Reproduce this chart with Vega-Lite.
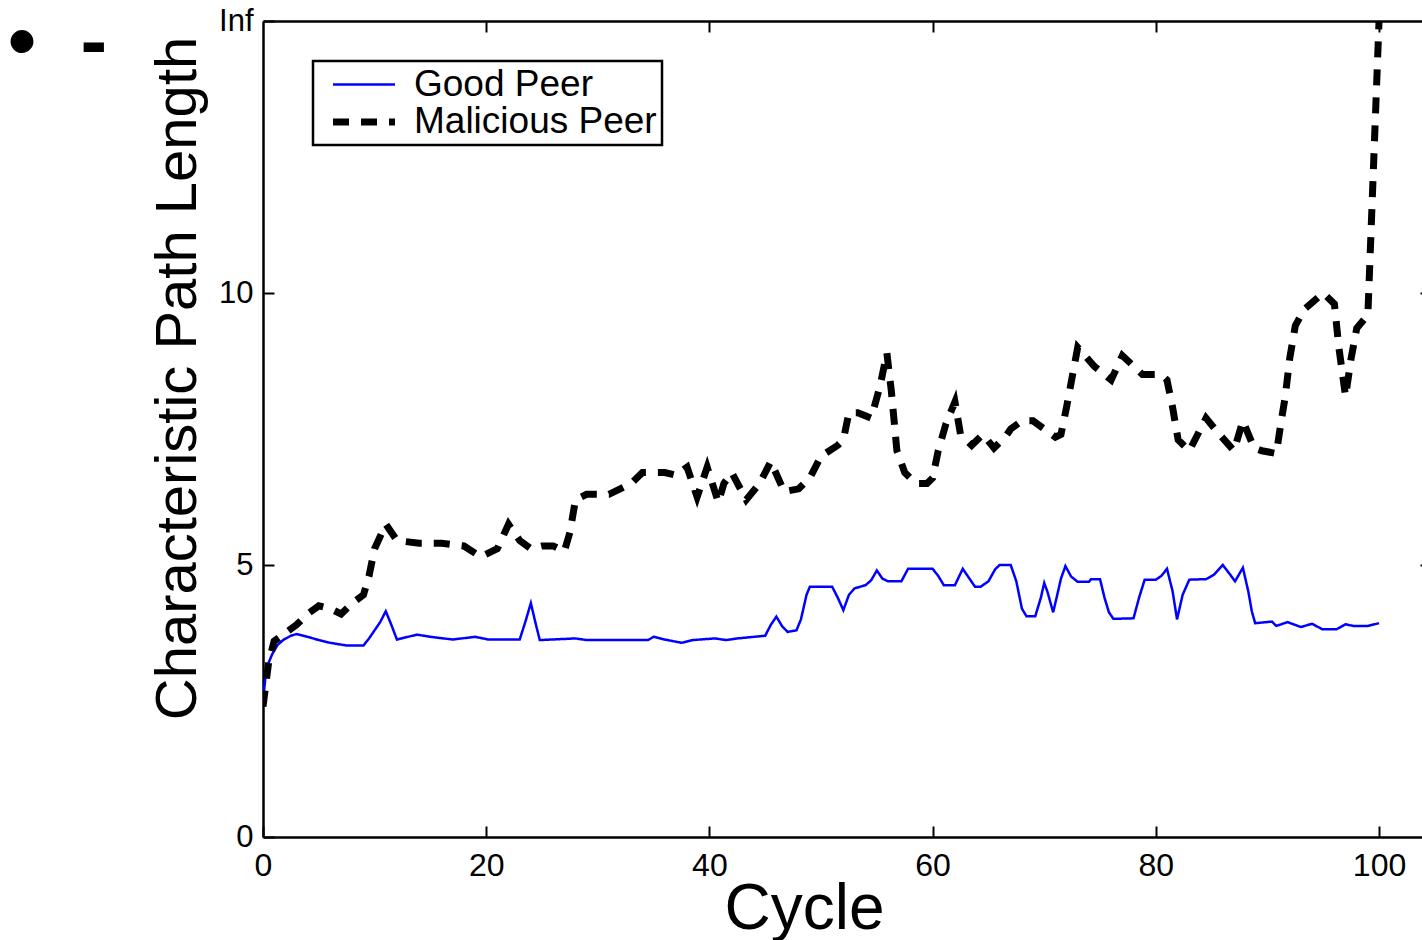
{
  "$schema": "https://vega.github.io/schema/vega-lite/v6.json",
  "width": 1159,
  "height": 816,
  "autosize": {"type": "none"},
  "padding": {"left": 263, "top": 21, "right": 0, "bottom": 103},
  "background": "white",
  "config": {
    "view": {"stroke": null},
    "font": "Liberation Sans",
    "legend": {"strokeWidth": 2.5},
    "axis": {"grid": false, "domainColor": "black", "tickColor": "black", "labelColor": "black", "titleColor": "black", "labelFont": "Liberation Sans", "titleFont": "Liberation Sans", "titleFontWeight": "normal"}
  },
  "title": {
    "text": "•\u00a0\u00a0-",
    "anchor": "start",
    "frame": "group",
    "orient": "top",
    "offset": 0,
    "dx": -255,
    "dy": 143,
    "baseline": "alphabetic",
    "fontSize": 80,
    "fontWeight": "bold",
    "font": "Liberation Sans",
    "color": "black"
  },
  "data": {
    "values": [
      {"s": "Good Peer", "c": 0, "v": 2.5},
      {"s": "Good Peer", "c": 0.3, "v": 3.1},
      {"s": "Good Peer", "c": 0.8, "v": 3.35},
      {"s": "Good Peer", "c": 1.3, "v": 3.53},
      {"s": "Good Peer", "c": 1.8, "v": 3.62},
      {"s": "Good Peer", "c": 2.5, "v": 3.7},
      {"s": "Good Peer", "c": 3, "v": 3.73},
      {"s": "Good Peer", "c": 4, "v": 3.68},
      {"s": "Good Peer", "c": 5, "v": 3.62},
      {"s": "Good Peer", "c": 6, "v": 3.57},
      {"s": "Good Peer", "c": 7.5, "v": 3.52},
      {"s": "Good Peer", "c": 9, "v": 3.52},
      {"s": "Good Peer", "c": 9.5, "v": 3.65},
      {"s": "Good Peer", "c": 10, "v": 3.8},
      {"s": "Good Peer", "c": 10.5, "v": 3.95},
      {"s": "Good Peer", "c": 11, "v": 4.15},
      {"s": "Good Peer", "c": 11.5, "v": 3.9},
      {"s": "Good Peer", "c": 12, "v": 3.63},
      {"s": "Good Peer", "c": 13, "v": 3.68},
      {"s": "Good Peer", "c": 13.8, "v": 3.72},
      {"s": "Good Peer", "c": 15, "v": 3.68},
      {"s": "Good Peer", "c": 17, "v": 3.63},
      {"s": "Good Peer", "c": 19, "v": 3.68},
      {"s": "Good Peer", "c": 20.2, "v": 3.63},
      {"s": "Good Peer", "c": 23, "v": 3.63},
      {"s": "Good Peer", "c": 23.5, "v": 3.95},
      {"s": "Good Peer", "c": 24, "v": 4.3},
      {"s": "Good Peer", "c": 24.4, "v": 3.95},
      {"s": "Good Peer", "c": 24.8, "v": 3.62},
      {"s": "Good Peer", "c": 28, "v": 3.65},
      {"s": "Good Peer", "c": 29, "v": 3.62},
      {"s": "Good Peer", "c": 34.5, "v": 3.62},
      {"s": "Good Peer", "c": 35, "v": 3.68},
      {"s": "Good Peer", "c": 36, "v": 3.63},
      {"s": "Good Peer", "c": 37.5, "v": 3.57},
      {"s": "Good Peer", "c": 38.5, "v": 3.62},
      {"s": "Good Peer", "c": 40.5, "v": 3.65},
      {"s": "Good Peer", "c": 41.5, "v": 3.62},
      {"s": "Good Peer", "c": 42.5, "v": 3.65},
      {"s": "Good Peer", "c": 44, "v": 3.68},
      {"s": "Good Peer", "c": 45, "v": 3.7},
      {"s": "Good Peer", "c": 45.5, "v": 3.9},
      {"s": "Good Peer", "c": 46, "v": 4.05},
      {"s": "Good Peer", "c": 46.5, "v": 3.88},
      {"s": "Good Peer", "c": 47, "v": 3.77},
      {"s": "Good Peer", "c": 47.8, "v": 3.8},
      {"s": "Good Peer", "c": 48.2, "v": 4.0},
      {"s": "Good Peer", "c": 48.7, "v": 4.45},
      {"s": "Good Peer", "c": 49, "v": 4.6},
      {"s": "Good Peer", "c": 51, "v": 4.6},
      {"s": "Good Peer", "c": 51.5, "v": 4.4},
      {"s": "Good Peer", "c": 52, "v": 4.17},
      {"s": "Good Peer", "c": 52.5, "v": 4.45},
      {"s": "Good Peer", "c": 53, "v": 4.57},
      {"s": "Good Peer", "c": 54, "v": 4.63},
      {"s": "Good Peer", "c": 54.5, "v": 4.72},
      {"s": "Good Peer", "c": 55, "v": 4.9},
      {"s": "Good Peer", "c": 55.5, "v": 4.75},
      {"s": "Good Peer", "c": 56, "v": 4.7},
      {"s": "Good Peer", "c": 57.2, "v": 4.7},
      {"s": "Good Peer", "c": 57.8, "v": 4.93},
      {"s": "Good Peer", "c": 60, "v": 4.93},
      {"s": "Good Peer", "c": 60.5, "v": 4.8},
      {"s": "Good Peer", "c": 61, "v": 4.63},
      {"s": "Good Peer", "c": 62, "v": 4.63},
      {"s": "Good Peer", "c": 62.7, "v": 4.93},
      {"s": "Good Peer", "c": 63.2, "v": 4.78},
      {"s": "Good Peer", "c": 63.8, "v": 4.6},
      {"s": "Good Peer", "c": 64.3, "v": 4.6},
      {"s": "Good Peer", "c": 65, "v": 4.7},
      {"s": "Good Peer", "c": 65.6, "v": 4.92},
      {"s": "Good Peer", "c": 66, "v": 5.0},
      {"s": "Good Peer", "c": 67, "v": 5.0},
      {"s": "Good Peer", "c": 67.5, "v": 4.7},
      {"s": "Good Peer", "c": 68, "v": 4.2},
      {"s": "Good Peer", "c": 68.4, "v": 4.06},
      {"s": "Good Peer", "c": 69.2, "v": 4.06},
      {"s": "Good Peer", "c": 69.7, "v": 4.4},
      {"s": "Good Peer", "c": 70, "v": 4.67},
      {"s": "Good Peer", "c": 70.3, "v": 4.5},
      {"s": "Good Peer", "c": 70.8, "v": 4.13},
      {"s": "Good Peer", "c": 71.2, "v": 4.48},
      {"s": "Good Peer", "c": 71.5, "v": 4.75},
      {"s": "Good Peer", "c": 71.9, "v": 4.98},
      {"s": "Good Peer", "c": 72.4, "v": 4.79},
      {"s": "Good Peer", "c": 73, "v": 4.69},
      {"s": "Good Peer", "c": 74, "v": 4.69},
      {"s": "Good Peer", "c": 74.2, "v": 4.74},
      {"s": "Good Peer", "c": 75, "v": 4.74},
      {"s": "Good Peer", "c": 75.4, "v": 4.4},
      {"s": "Good Peer", "c": 75.8, "v": 4.13},
      {"s": "Good Peer", "c": 76.2, "v": 4.01},
      {"s": "Good Peer", "c": 78, "v": 4.02},
      {"s": "Good Peer", "c": 78.5, "v": 4.4},
      {"s": "Good Peer", "c": 79, "v": 4.73},
      {"s": "Good Peer", "c": 80, "v": 4.73},
      {"s": "Good Peer", "c": 80.5, "v": 4.8},
      {"s": "Good Peer", "c": 81, "v": 4.93},
      {"s": "Good Peer", "c": 81.5, "v": 4.52},
      {"s": "Good Peer", "c": 81.9, "v": 4.0},
      {"s": "Good Peer", "c": 82.4, "v": 4.45},
      {"s": "Good Peer", "c": 83, "v": 4.73},
      {"s": "Good Peer", "c": 84.5, "v": 4.74},
      {"s": "Good Peer", "c": 85.2, "v": 4.82},
      {"s": "Good Peer", "c": 86, "v": 5.0},
      {"s": "Good Peer", "c": 86.6, "v": 4.84},
      {"s": "Good Peer", "c": 87.1, "v": 4.7},
      {"s": "Good Peer", "c": 87.8, "v": 4.95},
      {"s": "Good Peer", "c": 88.3, "v": 4.5},
      {"s": "Good Peer", "c": 88.6, "v": 4.15},
      {"s": "Good Peer", "c": 88.9, "v": 3.93},
      {"s": "Good Peer", "c": 90.4, "v": 3.96},
      {"s": "Good Peer", "c": 90.8, "v": 3.88},
      {"s": "Good Peer", "c": 91.8, "v": 3.95},
      {"s": "Good Peer", "c": 93, "v": 3.86},
      {"s": "Good Peer", "c": 94, "v": 3.92},
      {"s": "Good Peer", "c": 94.9, "v": 3.82},
      {"s": "Good Peer", "c": 96.2, "v": 3.82},
      {"s": "Good Peer", "c": 97, "v": 3.91},
      {"s": "Good Peer", "c": 97.7, "v": 3.88},
      {"s": "Good Peer", "c": 99, "v": 3.88},
      {"s": "Good Peer", "c": 100, "v": 3.93},
      {"s": "Malicious Peer", "c": 0, "v": 2.4},
      {"s": "Malicious Peer", "c": 0.5, "v": 3.2},
      {"s": "Malicious Peer", "c": 1, "v": 3.6},
      {"s": "Malicious Peer", "c": 2, "v": 3.75},
      {"s": "Malicious Peer", "c": 3, "v": 3.9},
      {"s": "Malicious Peer", "c": 4, "v": 4.1},
      {"s": "Malicious Peer", "c": 5, "v": 4.25},
      {"s": "Malicious Peer", "c": 6, "v": 4.2},
      {"s": "Malicious Peer", "c": 7, "v": 4.1},
      {"s": "Malicious Peer", "c": 8, "v": 4.3},
      {"s": "Malicious Peer", "c": 9, "v": 4.45},
      {"s": "Malicious Peer", "c": 9.5, "v": 4.8},
      {"s": "Malicious Peer", "c": 10, "v": 5.3},
      {"s": "Malicious Peer", "c": 11, "v": 5.75},
      {"s": "Malicious Peer", "c": 12, "v": 5.45},
      {"s": "Malicious Peer", "c": 14, "v": 5.4},
      {"s": "Malicious Peer", "c": 16, "v": 5.4},
      {"s": "Malicious Peer", "c": 18, "v": 5.35},
      {"s": "Malicious Peer", "c": 19.5, "v": 5.15},
      {"s": "Malicious Peer", "c": 21, "v": 5.3},
      {"s": "Malicious Peer", "c": 22, "v": 5.75},
      {"s": "Malicious Peer", "c": 23, "v": 5.45},
      {"s": "Malicious Peer", "c": 24, "v": 5.3},
      {"s": "Malicious Peer", "c": 25, "v": 5.35},
      {"s": "Malicious Peer", "c": 26, "v": 5.35},
      {"s": "Malicious Peer", "c": 27, "v": 5.25},
      {"s": "Malicious Peer", "c": 27.5, "v": 5.6},
      {"s": "Malicious Peer", "c": 28, "v": 6.2},
      {"s": "Malicious Peer", "c": 29, "v": 6.3},
      {"s": "Malicious Peer", "c": 31, "v": 6.3},
      {"s": "Malicious Peer", "c": 33, "v": 6.5},
      {"s": "Malicious Peer", "c": 34, "v": 6.7},
      {"s": "Malicious Peer", "c": 36, "v": 6.7},
      {"s": "Malicious Peer", "c": 37, "v": 6.65},
      {"s": "Malicious Peer", "c": 38, "v": 6.8},
      {"s": "Malicious Peer", "c": 38.9, "v": 6.25},
      {"s": "Malicious Peer", "c": 39.8, "v": 6.8},
      {"s": "Malicious Peer", "c": 40.8, "v": 6.15},
      {"s": "Malicious Peer", "c": 41.3, "v": 6.5},
      {"s": "Malicious Peer", "c": 42, "v": 6.7},
      {"s": "Malicious Peer", "c": 43.3, "v": 6.2},
      {"s": "Malicious Peer", "c": 44.5, "v": 6.5},
      {"s": "Malicious Peer", "c": 45.5, "v": 6.9},
      {"s": "Malicious Peer", "c": 46.7, "v": 6.35},
      {"s": "Malicious Peer", "c": 48, "v": 6.4},
      {"s": "Malicious Peer", "c": 49, "v": 6.6},
      {"s": "Malicious Peer", "c": 50, "v": 7.0},
      {"s": "Malicious Peer", "c": 51.5, "v": 7.2},
      {"s": "Malicious Peer", "c": 52, "v": 7.3},
      {"s": "Malicious Peer", "c": 52.5, "v": 7.8},
      {"s": "Malicious Peer", "c": 53.3, "v": 7.8},
      {"s": "Malicious Peer", "c": 54.5, "v": 7.7},
      {"s": "Malicious Peer", "c": 55.3, "v": 8.3},
      {"s": "Malicious Peer", "c": 55.9, "v": 8.9},
      {"s": "Malicious Peer", "c": 56.3, "v": 8.2},
      {"s": "Malicious Peer", "c": 56.8, "v": 7.1},
      {"s": "Malicious Peer", "c": 57.5, "v": 6.7},
      {"s": "Malicious Peer", "c": 58.5, "v": 6.5},
      {"s": "Malicious Peer", "c": 59.5, "v": 6.5},
      {"s": "Malicious Peer", "c": 60, "v": 6.6},
      {"s": "Malicious Peer", "c": 60.5, "v": 7.1},
      {"s": "Malicious Peer", "c": 61.2, "v": 7.6},
      {"s": "Malicious Peer", "c": 62, "v": 8.0},
      {"s": "Malicious Peer", "c": 62.5, "v": 7.4},
      {"s": "Malicious Peer", "c": 63.5, "v": 7.2},
      {"s": "Malicious Peer", "c": 64.5, "v": 7.4},
      {"s": "Malicious Peer", "c": 65.5, "v": 7.15},
      {"s": "Malicious Peer", "c": 66.5, "v": 7.35},
      {"s": "Malicious Peer", "c": 67, "v": 7.5},
      {"s": "Malicious Peer", "c": 68, "v": 7.65},
      {"s": "Malicious Peer", "c": 69, "v": 7.65},
      {"s": "Malicious Peer", "c": 70, "v": 7.5},
      {"s": "Malicious Peer", "c": 71, "v": 7.35},
      {"s": "Malicious Peer", "c": 71.5, "v": 7.4},
      {"s": "Malicious Peer", "c": 72, "v": 7.9},
      {"s": "Malicious Peer", "c": 73, "v": 9.0},
      {"s": "Malicious Peer", "c": 74.5, "v": 8.65},
      {"s": "Malicious Peer", "c": 76, "v": 8.4},
      {"s": "Malicious Peer", "c": 77, "v": 8.85},
      {"s": "Malicious Peer", "c": 78.8, "v": 8.5},
      {"s": "Malicious Peer", "c": 80.5, "v": 8.5},
      {"s": "Malicious Peer", "c": 81, "v": 8.4},
      {"s": "Malicious Peer", "c": 81.5, "v": 7.9},
      {"s": "Malicious Peer", "c": 82, "v": 7.3},
      {"s": "Malicious Peer", "c": 83, "v": 7.1},
      {"s": "Malicious Peer", "c": 84.5, "v": 7.7},
      {"s": "Malicious Peer", "c": 85.5, "v": 7.45},
      {"s": "Malicious Peer", "c": 87, "v": 7.1},
      {"s": "Malicious Peer", "c": 87.8, "v": 7.65},
      {"s": "Malicious Peer", "c": 88.8, "v": 7.15},
      {"s": "Malicious Peer", "c": 89.5, "v": 7.1},
      {"s": "Malicious Peer", "c": 90.8, "v": 7.05},
      {"s": "Malicious Peer", "c": 91.2, "v": 7.6},
      {"s": "Malicious Peer", "c": 91.6, "v": 8.1},
      {"s": "Malicious Peer", "c": 92, "v": 8.8},
      {"s": "Malicious Peer", "c": 92.5, "v": 9.4},
      {"s": "Malicious Peer", "c": 93.3, "v": 9.7},
      {"s": "Malicious Peer", "c": 95, "v": 10.0},
      {"s": "Malicious Peer", "c": 96, "v": 9.8},
      {"s": "Malicious Peer", "c": 96.4, "v": 9.0},
      {"s": "Malicious Peer", "c": 97, "v": 8.1},
      {"s": "Malicious Peer", "c": 97.5, "v": 8.8},
      {"s": "Malicious Peer", "c": 98, "v": 9.35},
      {"s": "Malicious Peer", "c": 99, "v": 9.6},
      {"s": "Malicious Peer", "c": 100, "v": 15}
    ]
  },
  "layer": [
    {
      "mark": {"type": "line", "strokeCap": "butt", "strokeJoin": "miter", "clip": true},
      "encoding": {
        "x": {
          "field": "c", "type": "quantitative",
          "scale": {"domain": [0, 103.85], "nice": false, "zero": false},
          "axis": {
            "orient": "bottom", "values": [0, 20, 40, 60, 80, 100], "format": "d",
            "title": "Cycle", "titleFontSize": 64, "titleX": 541, "titleY": 91,
            "titleBaseline": "alphabetic", "titleAlign": "center", "titleAnchor": null,
            "labelFontSize": 32, "labelPadding": 24, "labelFlush": false, "labelOverlap": false,
            "tickSize": -11, "tickWidth": 2, "domainWidth": 2.5
          }
        },
        "y": {
          "field": "v", "type": "quantitative",
          "scale": {"domain": [0, 15], "nice": false},
          "axis": {
            "orient": "left", "values": [0, 5, 10, 15],
            "labelExpr": "datum.value == 15 ? 'Inf' : datum.label",
            "title": "Characteristic Path Length", "titleFontSize": 58,
            "titleX": -68, "titleY": 357, "titleAngle": 270,
            "titleBaseline": "alphabetic", "titleAlign": "center", "titleAnchor": null,
            "labelFontSize": 31, "labelPadding": 21, "labelFlush": false, "labelOverlap": false,
            "tickSize": -11, "tickWidth": 2, "domainWidth": 2.5
          }
        },
        "color": {
          "field": "s", "type": "nominal",
          "scale": {"domain": ["Good Peer", "Malicious Peer"], "range": ["#0000ff", "#000000"]},
          "legend": {
            "title": null, "orient": "none", "legendX": 50, "legendY": 40,
            "direction": "vertical",
            "strokeColor": "black", "fillColor": "white",
            "padding": 5, "symbolOffset": 27, "labelOffset": 31, "rowPadding": 0,
            "labelFontSize": 37, "labelFont": "Liberation Sans", "labelColor": "black", "labelLimit": 500,
            "labelExpr": "datum.label + '\u2003'",
            "symbolType": "M-2,0H2", "symbolSize": 961,
            "encode": {
              "symbols": {
                "update": {
                  "strokeDash": {"signal": "datum.value == 'Malicious Peer' ? [19, 10, 19, 60] : [1, 0]"},
                  "strokeWidth": {"signal": "datum.value == 'Malicious Peer' ? 10 : 2.5"}
                }
              }
            }
          }
        },
        "strokeDash": {
          "field": "s", "type": "nominal",
          "scale": {"domain": ["Good Peer", "Malicious Peer"], "range": [[1, 0], [16, 12]]},
          "legend": null
        },
        "strokeWidth": {
          "field": "s", "type": "nominal",
          "scale": {"domain": ["Good Peer", "Malicious Peer"], "range": [2.5, 7]},
          "legend": null
        }
      }
    },
    {
      "mark": {"type": "line", "opacity": 0},
      "encoding": {
        "x": {
          "field": "c", "type": "quantitative",
          "axis": {"orient": "top", "values": [20, 40, 60, 80, 100], "labels": false, "title": null, "tickSize": -11, "tickWidth": 2, "domainWidth": 2.5}
        },
        "y": {
          "field": "v", "type": "quantitative",
          "axis": {"orient": "right", "values": [5, 10], "labels": false, "title": null, "domain": false, "offset": 9, "tickSize": -11, "tickWidth": 2}
        }
      }
    }
  ],
  "resolve": {"axis": {"x": "independent", "y": "independent"}}
}
